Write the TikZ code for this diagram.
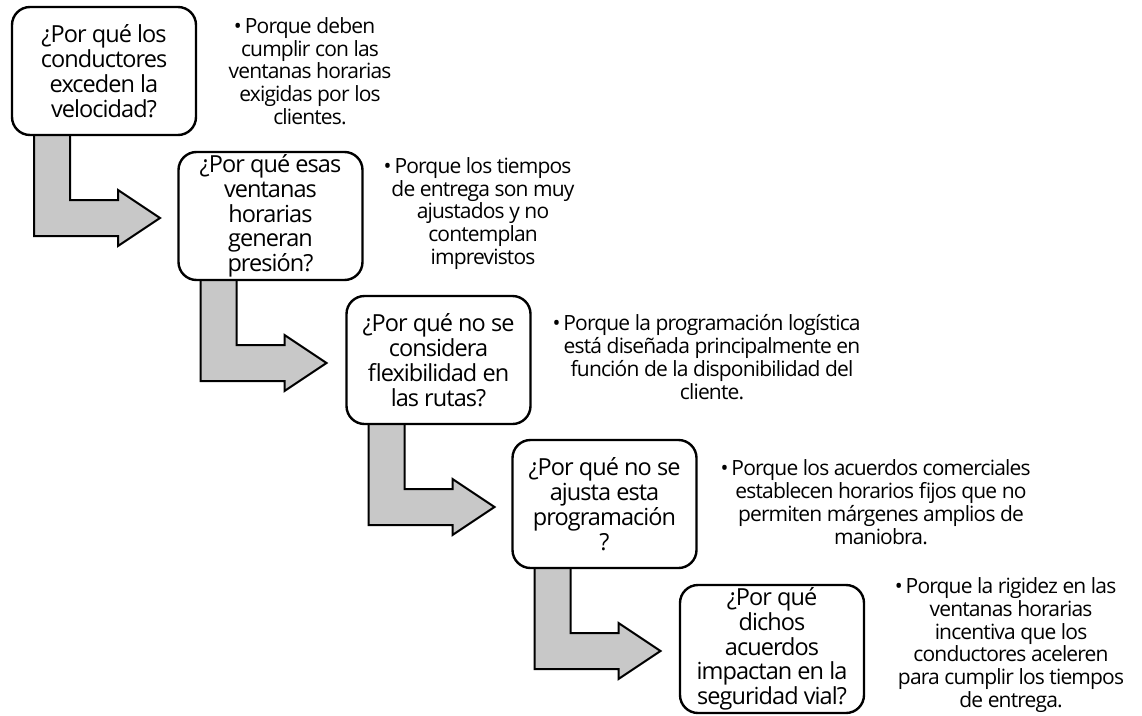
\documentclass[tikz,border=0pt]{standalone}
\usepackage{fontspec}
\setmainfont{Open Sans}[LetterSpace=-4]
\usetikzlibrary{calc,backgrounds}
\definecolor{arrowgray}{RGB}{200,200,200}
\tikzset{
  qbox/.style={draw=black, line width=2.4pt, fill=white, rounded corners=18pt,
    minimum width=184pt, minimum height=128pt, inner sep=0pt, outer sep=0pt},
  qtext/.style={align=center, inner sep=0pt, font=\fontsize{23.5}{24.8}\selectfont},
  atext/.style={align=center, inner sep=0pt, font=\fontsize{21}{22.8}\selectfont},
  bentshape/.style={draw=black, line width=2pt, fill=arrowgray, line join=miter},
}
% bullet hanging to the left of a centred first line
\newcommand{\hangbullet}{\llap{•\hspace{3pt}}}
% bent arrow leaving the bottom of a box and pointing right
\newcommand{\bentarrow}[1]{%
  \draw[bentshape] ($(#1.south west)+(22,-4)$) -- ($(#1.south west)+(58,-4)$)
    -- ($(#1.south west)+(58,65)$) -- ($(#1.south west)+(106,65)$)
    -- ($(#1.south west)+(106,55)$) -- ($(#1.south west)+(148,83)$)
    -- ($(#1.south west)+(106,111)$) -- ($(#1.south west)+(106,101)$)
    -- ($(#1.south west)+(22,101)$) -- cycle;}
\begin{document}
\begin{tikzpicture}[x=1pt, y=-1pt]
\useasboundingbox (0,0) rectangle (1142,715);

% question boxes
\node[qbox] (q1) at (104,71) {};
\node[qbox] (q2) at (270.5,216) {};
\node[qbox] (q3) at (438.5,360) {};
\node[qbox] (q4) at (604.5,504) {};
\node[qbox] (q5) at (772,649) {};

% connectors, kept behind the boxes
\begin{scope}[on background layer]
\bentarrow{q1}
\bentarrow{q2}
\bentarrow{q3}
\bentarrow{q4}
\end{scope}

% questions
\node[qtext] (t1) at (q1) {¿Por qué los\\conductores\\exceden la\\velocidad?};
\node[qtext] (t2) at (q2) {¿Por qué esas\\ventanas\\horarias\\generan\\presión?};
\node[qtext] (t3) at (q3) {¿Por qué no se\\considera\\flexibilidad en\\las rutas?};
\node[qtext] (t4) at (q4) {¿Por qué no se\\ajusta esta\\programación\\?};
\node[qtext] (t5) at (q5) {¿Por qué\\dichos\\acuerdos\\impactan en la\\seguridad vial?};

% answers
\node[atext] (a1) at (310,71) {\hangbullet Porque deben\\cumplir con las\\ventanas horarias\\exigidas por los\\clientes.};
\node[atext] (a2) at (483,213.5) {\hangbullet Porque los tiempos\\de entrega son muy\\ajustados y no\\contemplan\\imprevistos};
\node[atext] (a3) at (712,357) {\hangbullet Porque la programación logística\\está diseñada principalmente en\\función de la disponibilidad del\\cliente.};
\node[atext] (a4) at (881,502) {\hangbullet Porque los acuerdos comerciales\\establecen horarios fijos que no\\permiten márgenes amplios de\\maniobra.};
\node[atext] (a5) at (1011,645) {\hangbullet Porque la rigidez en las\\ventanas horarias\\incentiva que los\\conductores aceleren\\para cumplir los tiempos\\de entrega.};
\end{tikzpicture}
\end{document}
